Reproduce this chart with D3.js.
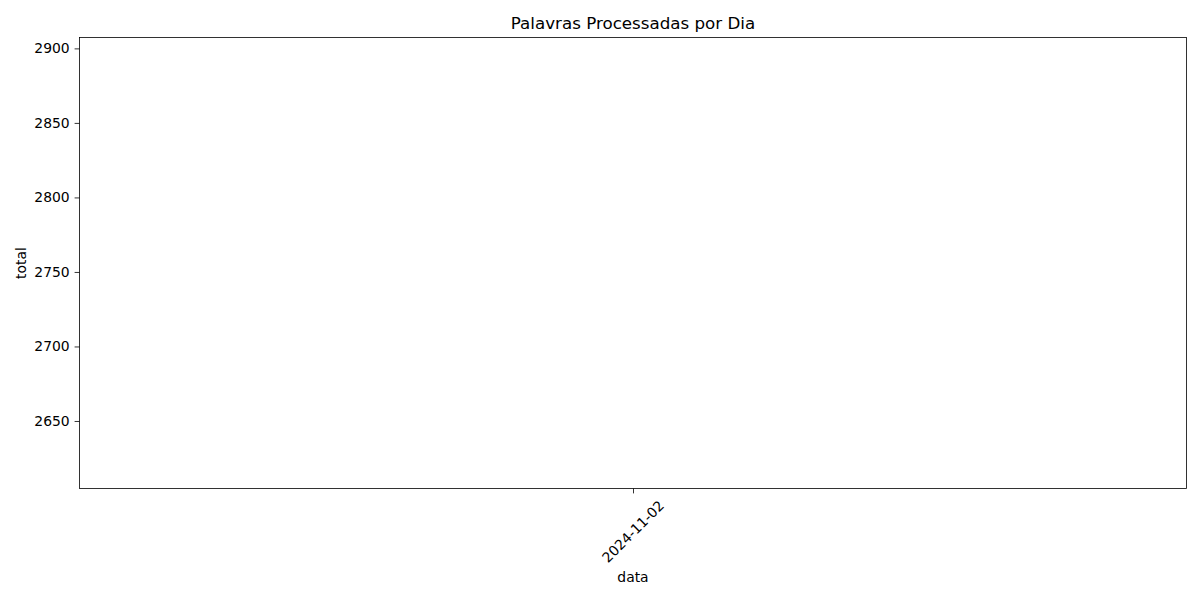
<!DOCTYPE html>
<html><head><meta charset="utf-8">
<script src="https://cdn.jsdelivr.net/npm/d3@7"></script>
<style>body{margin:0;background:#fff}svg{display:block}text{font-family:"DejaVu Sans",sans-serif;fill:#000}</style>
</head><body><svg id="c" width="1200" height="600"></svg>
<script>
const dates = ["2024-11-02"];
const totals = [2756];
const yTicks = [2650, 2700, 2750, 2800, 2850, 2900];

const svg = d3.select("#c");
const m = {l: 79.5, r: 1186.5, t: 37.5, b: 488.5};
const v = totals[0];
const x = d3.scalePoint().domain(dates).range([m.l, m.r]).padding(0.5);
const y = d3.scaleLinear().domain([v - 0.0549 * v, v + 0.0549 * v]).range([m.b, m.t]);

const fs = "13.9px";
// y axis
const ya = svg.append("g").attr("transform", `translate(${m.l},0)`)
  .call(d3.axisLeft(y).tickValues(yTicks).tickSize(4.9).tickPadding(4.9).tickFormat(d3.format("d")));
ya.select(".domain").remove();
ya.selectAll("line").attr("stroke", "#000").attr("stroke-width", 0.8);
ya.selectAll("text").style("font-size", fs).attr("font-family", "DejaVu Sans");

// x axis
const xa = svg.append("g").attr("transform", `translate(0,${m.b})`)
  .call(d3.axisBottom(x).tickSize(4.9).tickFormat(""));
xa.select(".domain").remove();
xa.selectAll("line").attr("stroke", "#000").attr("stroke-width", 0.8);
svg.append("g").selectAll("text").data(dates).join("text")
  .attr("transform", d => `translate(${x(d)},${m.b + 43}) rotate(-45)`)
  .attr("text-anchor", "middle").attr("dominant-baseline", "central")
  .style("font-size", fs).text(d => d);

// line (single point, invisible like the reference)
const line = d3.line().x((d, i) => x(dates[i])).y(d => y(d));
svg.append("path").datum(totals).attr("d", line).attr("fill", "none").attr("stroke", "#1f77b4").attr("stroke-width", 1.5);

// frame
svg.append("rect").attr("x", m.l).attr("y", m.t).attr("width", m.r - m.l).attr("height", m.b - m.t)
  .attr("fill", "none").attr("stroke", "#000").attr("stroke-width", 0.8);

// titles
svg.append("text").attr("x", (m.l + m.r) / 2).attr("y", 29).attr("text-anchor", "middle")
  .style("font-size", "16.7px").text("Palavras Processadas por Dia");
svg.append("text").attr("x", (m.l + m.r) / 2).attr("y", 582).attr("text-anchor", "middle")
  .style("font-size", fs).text("data");
svg.append("text").attr("transform", `translate(26,${(m.t + m.b) / 2}) rotate(-90)`).attr("text-anchor", "middle")
  .style("font-size", fs).text("total");
</script></body></html>
